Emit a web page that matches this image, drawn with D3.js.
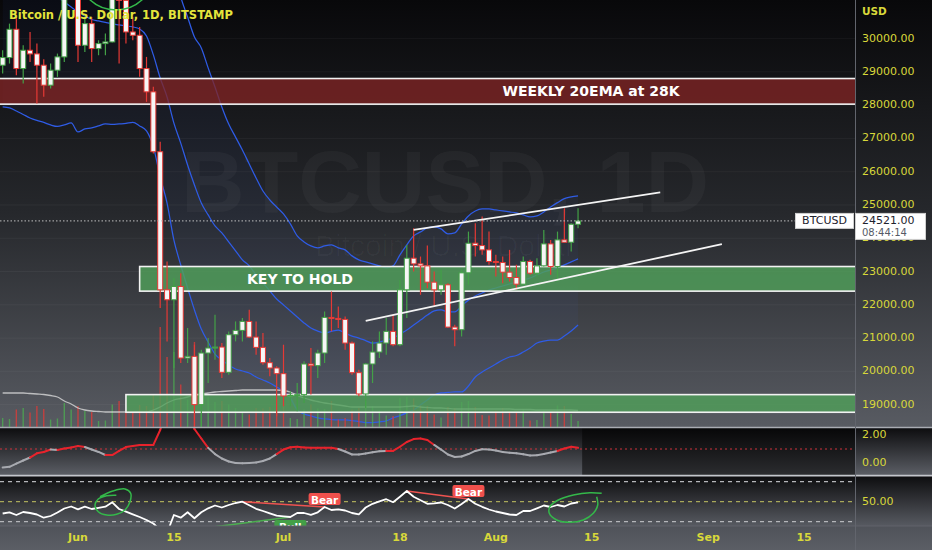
<!DOCTYPE html>
<html><head><meta charset="utf-8">
<script src="https://cdn.jsdelivr.net/npm/d3@7"></script>
<style>body{margin:0;background:#0b0b0c;}svg{display:block}</style>
</head><body>
<svg id="c" width="932" height="550"></svg>
<script>
// ---------------- DATA ----------------
const dates = ["2022-05-21","2022-05-22","2022-05-23","2022-05-24","2022-05-25","2022-05-26","2022-05-27","2022-05-28","2022-05-29","2022-05-30","2022-05-31",
"2022-06-01","2022-06-02","2022-06-03","2022-06-04","2022-06-05","2022-06-06","2022-06-07","2022-06-08","2022-06-09","2022-06-10","2022-06-11","2022-06-12","2022-06-13","2022-06-14","2022-06-15","2022-06-16","2022-06-17","2022-06-18","2022-06-19","2022-06-20","2022-06-21","2022-06-22","2022-06-23","2022-06-24","2022-06-25","2022-06-26","2022-06-27","2022-06-28","2022-06-29","2022-06-30",
"2022-07-01","2022-07-02","2022-07-03","2022-07-04","2022-07-05","2022-07-06","2022-07-07","2022-07-08","2022-07-09","2022-07-10","2022-07-11","2022-07-12","2022-07-13","2022-07-14","2022-07-15","2022-07-16","2022-07-17","2022-07-18","2022-07-19","2022-07-20","2022-07-21","2022-07-22","2022-07-23","2022-07-24","2022-07-25","2022-07-26","2022-07-27","2022-07-28","2022-07-29","2022-07-30","2022-07-31",
"2022-08-01","2022-08-02","2022-08-03","2022-08-04","2022-08-05","2022-08-06","2022-08-07","2022-08-08","2022-08-09","2022-08-10","2022-08-11","2022-08-12","2022-08-13"];
const open = [29200,29430,30280,29100,29650,29540,29200,28600,29050,29450,31700,
31800,29800,30450,29700,29850,29900,31350,31150,30200,30100,29100,28400,26600,22450,22150,22550,20400,20450,19000,20550,20700,20730,19970,21100,21230,21500,21030,20720,20260,20100,
19930,19260,19280,19300,20220,20170,20550,21620,21590,21560,20850,19960,19320,20220,20580,20850,21200,20800,22450,23400,23230,23170,22680,22450,22600,21330,21250,22960,23850,23780,23650,
23300,23270,22980,22820,22620,23300,22950,23170,23830,23150,23950,23880,24420];
const high = [29650,30450,30650,29800,30200,29850,29380,29250,29550,32200,32400,
31950,30650,30650,29950,30150,31750,31550,31300,30650,30350,29450,28550,26900,23300,22800,22950,21300,20800,20650,21000,21700,20850,21200,21500,21600,21850,21500,21150,20400,20150,
20800,19400,19650,20300,20700,20650,21800,22400,21950,21650,20900,20050,20250,20900,21200,21600,21700,22750,23800,24300,23450,23780,23000,23050,22650,21400,23050,24200,24450,24650,24200,
23500,23450,23650,23200,23450,23350,23400,24250,23950,24200,24900,24450,24900];
const low = [28950,29250,28900,28650,29300,28050,28250,28500,28850,29300,31200,
29300,29600,29300,29500,29500,29880,29250,29850,29950,28850,28100,26550,21900,20900,20100,20250,20250,17600,17950,19650,20350,19800,19900,20900,20900,21000,20500,20200,19850,18650,
18950,18950,18800,19050,19300,19800,20250,21200,21300,20650,19900,19250,18900,19650,20400,20500,20750,20750,21600,23000,22300,22500,21950,22300,21300,20750,21050,22600,23450,23500,23200,
22850,22650,22700,22450,22600,22900,22850,23150,22900,22700,23880,23600,24300];
const close = [29430,30280,29100,29650,29540,29200,28600,29050,29450,31700,31800,
29800,30450,29700,29850,29900,31350,31150,30200,30100,29100,28400,26600,22450,22150,22550,20400,20450,19000,20550,20700,20730,19970,21100,21230,21500,21030,20720,20260,20100,19930,
19260,19280,19300,20220,20170,20550,21620,21590,21560,20850,19960,19320,20220,20580,20850,21200,20800,22450,23400,23230,23170,22680,22450,22600,21330,21250,22960,23850,23780,23650,23300,
23270,22980,22820,22620,23300,22950,23170,23830,23150,23950,23880,24420,24521];
const volume = [1800,1600,3500,3800,2900,4200,3600,1500,1700,4800,3500,
4200,3200,3000,1200,1300,4500,5200,3300,2800,4400,4200,6500,20000,14000,15000,8500,5500,17000,9500,6000,5000,5200,4500,3800,2800,2500,3800,3700,4000,5600,
5200,1800,1600,3500,4500,3700,3600,5200,1500,1800,3500,3800,5200,4200,3300,2300,2200,5800,6000,5700,4300,4200,2500,1900,4000,3800,5000,5200,4000,2400,2300,
3300,3800,3200,3000,3600,1300,1400,3400,3000,4300,4200,2600,1200];
const volumeMA = [6800,6800,6800,6800,6700,6600,6500,6300,6000,5200,4600,
3800,3400,3200,3100,3000,3000,3000,3000,3000,3000,3000,3400,4000,4800,5400,5700,6000,6400,6600,6800,7000,7100,7200,7300,7400,7400,7400,7400,7400,7400,
7300,7000,6300,5800,5400,5100,4800,4600,4400,4200,4000,4000,4000,4000,4000,4000,4000,4000,4100,4200,4000,3900,3800,3800,3700,3600,3600,3600,3600,3600,3600,
3600,3600,3600,3500,3500,3500,3400,3400,3400,3400,3400,3400,3300];
const bbUpper = [36500,36200,35800,35400,35000,34700,34400,34200,34000,33900,33800,
33700,33600,33500,33400,33300,33250,33250,33300,33300,33250,33100,32800,32400,32300,32100,31250,30650,30050,29720,29120,28545,27945,27430,27040,26650,26230,25810,25420,25150,24940,
24730,24430,24070,23890,23770,23710,23770,23800,23710,23650,23470,23350,23290,23230,23170,23110,23170,23500,23800,24070,24190,24310,24340,24280,24130,24160,24430,24670,24820,24880,24880,
24850,24820,24790,24760,24700,24640,24670,24790,24940,25070,25190,25240,25270];
const bbBasis = [33000,32750,32500,32250,32000,31800,31600,31400,31250,31100,30950,
30800,30680,30575,30530,30485,30440,30410,30380,30350,30290,30080,29510,28815,28245,27460,26860,26200,25600,25060,24700,24370,24160,23890,23620,23350,23170,22900,22660,22420,22175,
21995,21815,21635,21455,21300,21210,21150,21200,21240,21150,21060,21000,20925,20850,20880,20940,21000,21120,21240,21390,21540,21690,21815,21845,21785,21785,21965,22140,22265,22355,22445,
22505,22565,22625,22685,22745,22805,22895,22985,23045,23105,23200,23290,23380];
const bbLower = [27945,27915,27825,27720,27615,27540,27480,27405,27360,27405,27465,
27195,27285,27315,27375,27435,27420,27435,27450,27480,27375,27225,26745,25840,25055,23945,23195,22505,21845,21270,20880,20520,20340,20190,20070,20010,19950,19830,19740,19650,19530,
19410,19200,18840,18720,18660,18600,18570,18550,18540,18540,18520,18490,18460,18460,18480,18510,18600,18670,18750,18840,18990,19140,19290,19350,19365,19380,19380,19560,19830,19980,20100,
20220,20340,20430,20475,20580,20700,20850,20910,20940,20940,21060,21210,21390];
const osc = [-0.32,-0.27,-0.04,0.18,0.39,0.69,0.79,0.96,0.93,1.04,1.11,
1.21,1.14,0.96,0.79,0.57,0.57,0.86,1.14,1.21,1.29,1.29,1.29,2.36,4.0,5.0,5.0,4.0,2.43,1.75,1.08,0.64,0.32,0.11,0.0,-0.02,0.0,0.04,0.14,0.32,0.64,
0.96,1.12,1.16,1.11,1.09,1.09,1.09,1.09,1.0,0.82,0.61,0.61,0.68,0.76,0.84,0.86,0.86,1.16,1.5,1.71,1.75,1.64,1.29,0.96,0.61,0.43,0.46,0.64,0.86,0.98,0.96,
0.89,0.79,0.74,0.69,0.62,0.54,0.55,0.64,0.75,0.86,1.04,1.16,1.09];
const oscHot = [0,0,0,0,0,1,1,1,0,1,1,
1,1,0,0,0,1,1,1,1,1,1,1,1,1,1,1,1,1,1,1,0,0,0,0,0,0,0,0,0,0,
1,1,1,1,1,1,1,1,1,0,0,0,0,0,0,0,1,1,1,1,1,1,1,0,0,0,0,0,0,0,0,
0,0,0,0,0,0,0,0,0,0,1,1,1];
const rsi = [38.2,39.4,36.7,39.7,38.7,37.2,34.0,35.7,39.2,43.2,45.2,
42.4,45.0,42.7,43.9,45.0,49.4,42.7,40.0,37.4,34.7,31.7,28.2,21.7,18.7,36.7,34.0,39.4,33.4,39.4,43.4,46.2,44.2,46.7,48.7,50.0,46.4,42.9,40.7,38.3,36.0,
35.4,34.7,38.7,38.7,36.9,39.4,44.7,41.7,42.4,41.2,38.7,37.4,44.2,47.9,50.4,52.5,49.5,55.0,60.7,54.9,51.5,47.9,48.4,49.2,46.7,43.2,47.7,52.7,48.0,44.9,42.2,
40.2,38.7,37.2,36.7,40.7,40.7,43.4,46.2,44.7,46.7,45.2,48.2,49.4];

const priceTicks = [30000,29000,28000,27000,26000,25000,24000,23000,22000,21000,20000,19000];
const timeTicks = [["2022-06-01","Jun"],["2022-06-15","15"],["2022-07-01","Jul"],["2022-07-18","18"],["2022-08-01","Aug"],["2022-08-15","15"],["2022-09-01","Sep"],["2022-09-15","15"]];
const lastPrice = 24521, lastTimer = "08:44:14", symbol = "BTCUSD";
const zones = [
  {from:"2022-05-01", to:"2022-10-15", top:28800, bottom:28030, fill:"rgba(128,36,36,0.78)"},
  {from:"2022-06-10", to:"2022-10-15", top:23150, bottom:22410, fill:"rgba(80,160,90,0.82)"},
  {from:"2022-06-08", to:"2022-10-15", top:19300, bottom:18770, fill:"rgba(80,160,90,0.8)"}
];
const zoneTexts = [{text:"WEEKLY 20EMA at 28K", bar:74.9, price:28415},{text:"KEY TO HOLD", bar:32.4, price:22780}];
const trendLines = [
  {from:"2022-07-20", p1:24248, to:"2022-08-25", p2:25378},
  {from:"2022-07-13", p1:21513, to:"2022-09-03", p2:23821}
];
const divergences = [
  {kind:"Bear", from:"2022-06-25", to:"2022-07-07"},
  {kind:"Bear", from:"2022-07-19", to:"2022-07-28"},
  {kind:"Bull", from:"2022-06-14", to:"2022-07-02"}
];
// hand-drawn loops in pane 2: [bar index from Jun 1, rsi value]
const loopA = [[3.21,55.0],[5.11,60.7],[6.86,62.7],[7.69,58.4],[7.59,50.0],[6.86,41.7],[5.65,37.4],[4.19,36.7],[2.96,40.0],[2.48,46.7],[2.96,52.7],[4.19,56.0],[5.6,56.5]];
const loopB = [[76.45,58.4],[74.74,59.0],[72.31,56.7],[70.12,51.7],[68.9,45.0],[68.8,38.4],[69.88,31.7],[71.82,29.4],[73.77,31.7],[75.23,38.4],[75.87,46.7],[75.72,55.0]];
const topEllipse = {bar:5.55, price:31913, rxBars:5.4, ryPrice:1052};

// ---------------- LAYOUT ----------------
const W = 932, PR = 855;
const P1 = {top:428, bot:475}, P2 = {top:476.5, bot:526};
const parse = d3.utcParse("%Y-%m-%d");
const x = d3.scaleUtc().domain([parse("2022-06-01"), parse("2022-09-15")]).range([78, 804.1]);
const xi = d3.scaleLinear().domain([0,106]).range([78, 804.1]);
const yP = d3.scaleLinear().domain([19000,30000]).range([404.6,38.6]);
const yV = d3.scaleLinear().domain([0,20000]).range([427,327]);
const yO = d3.scaleLinear().domain([0,2]).range([463,435]);
const yR = d3.scaleLinear().domain([30,70]).range([521.7,481.7]);

const bars = dates.map((d,i)=>({t:parse(d), o:open[i], h:high[i], l:low[i], c:close[i], v:volume[i], vma:volumeMA[i], bu:bbUpper[i], bm:bbBasis[i], bl:bbLower[i], osc:osc[i], hot:oscHot[i], rsi:rsi[i]}));
const byDate = new Map(dates.map((d,i)=>[d,bars[i]]));

const svg = d3.select("#c");
const defs = svg.append("defs");
function vgrad(id, y1, y2, stops){
  const g = defs.append("linearGradient").attr("id",id).attr("gradientUnits","userSpaceOnUse")
    .attr("x1",0).attr("x2",0).attr("y1",y1).attr("y2",y2);
  stops.forEach(s=>g.append("stop").attr("offset",s[0]).attr("stop-color",s[1]));
}
vgrad("gP",0,427,[[0,"#08080a"],[0.5,"#26282c"],[1,"#585b62"]]);
vgrad("g1",428,475,[[0,"#0d0d0f"],[1,"#5b5e65"]]);
vgrad("g1d",428,475,[[0,"#070708"],[1,"#2b2c2f"]]);
vgrad("g2",476,526,[[0,"#0d0d0f"],[1,"#575a61"]]);
vgrad("gT",526,550,[[0,"#4f5259"],[1,"#5b5e65"]]);
function clip(id,y,h){ defs.append("clipPath").attr("id",id).append("rect").attr("x",0).attr("y",y).attr("width",PR).attr("height",h); }
clip("cP",0,427); clip("c1",P1.top,P1.bot-P1.top); clip("c2",P2.top,P2.bot-P2.top);

// backgrounds
svg.append("rect").attr("x",0).attr("y",0).attr("width",W).attr("height",427).attr("fill","url(#gP)");
svg.append("rect").attr("x",0).attr("y",P1.top).attr("width",W).attr("height",P1.bot-P1.top).attr("fill","url(#g1)");
svg.append("rect").attr("x",xi(73.6)).attr("y",P1.top).attr("width",PR-xi(73.6)).attr("height",P1.bot-P1.top).attr("fill","url(#g1d)");
svg.append("rect").attr("x",0).attr("y",P2.top).attr("width",W).attr("height",P2.bot-P2.top).attr("fill","url(#g2)");
svg.append("rect").attr("x",0).attr("y",526).attr("width",W).attr("height",24).attr("fill","url(#gT)");

// ---------------- PRICE PANE ----------------
const gp = svg.append("g").attr("clip-path","url(#cP)");
gp.selectAll("line.grid").data(priceTicks).join("line")
  .attr("x1",0).attr("x2",PR).attr("y1",d=>yP(d)).attr("y2",d=>yP(d))
  .attr("stroke","rgba(255,255,255,0.045)");
// watermark
gp.append("text").attr("x",445).attr("y",212).attr("text-anchor","middle")
  .attr("font-family","Liberation Sans, Arial, sans-serif").attr("font-weight","bold").attr("font-size",88)
  .attr("fill","rgba(255,255,255,0.035)").text("BTCUSD, 1D");
gp.append("text").attr("x",445).attr("y",256).attr("text-anchor","middle")
  .attr("font-family","Liberation Sans, Arial, sans-serif").attr("font-size",30)
  .attr("fill","rgba(255,255,255,0.028)").text("Bitcoin / U.S. Dollar");

// Bollinger fill & lines
gp.append("path").datum(bars).attr("fill","rgba(60,110,255,0.045)")
  .attr("d", d3.area().x(d=>x(d.t)).y0(d=>yP(d.bl)).y1(d=>yP(d.bu)).curve(d3.curveMonotoneX));
["bu","bm","bl"].forEach(k=>{
  gp.append("path").datum(bars).attr("fill","none").attr("stroke","#2f5ce6").attr("stroke-width",1.25)
    .attr("d", d3.line().x(d=>x(d.t)).y(d=>yP(d[k])).curve(d3.curveMonotoneX));
});
// volume
gp.selectAll("line.vol").data(bars).join("line")
  .attr("x1",d=>x(d.t)).attr("x2",d=>x(d.t)).attr("y1",yV(0)).attr("y2",d=>yV(d.v))
  .attr("stroke",d=>d.c>=d.o?"rgba(76,175,80,0.75)":"rgba(229,57,53,0.75)").attr("stroke-width",1.4);
gp.append("path").datum(bars).attr("fill","none").attr("stroke","rgba(225,225,225,0.75)").attr("stroke-width",1.3)
  .attr("d", d3.line().x(d=>x(d.t)).y(d=>yV(d.vma)).curve(d3.curveMonotoneX));
// zones
zones.forEach(z=>{
  const x1 = x(parse(z.from)), x2 = x(parse(z.to));
  gp.append("rect").attr("x",x1).attr("y",yP(z.top)).attr("width",x2-x1).attr("height",yP(z.bottom)-yP(z.top))
    .attr("fill",z.fill).attr("stroke","#f2f2f2").attr("stroke-width",1.6);
});
// candles
const cg = gp.append("g");
cg.selectAll("line.wick").data(bars).join("line")
  .attr("x1",d=>x(d.t)).attr("x2",d=>x(d.t)).attr("y1",d=>yP(d.h)).attr("y2",d=>yP(d.l))
  .attr("stroke",d=>d.c>=d.o?"#43a047":"#e53935").attr("stroke-width",1.2);
cg.selectAll("rect.body").data(bars).join("rect")
  .attr("x",d=>x(d.t)-2.5).attr("width",5)
  .attr("y",d=>yP(Math.max(d.o,d.c))).attr("height",d=>Math.max(1,Math.abs(yP(d.o)-yP(d.c))))
  .attr("fill","#f6f6f6").attr("stroke",d=>d.c>=d.o?"#43a047":"#e53935").attr("stroke-width",1);
// trend lines
trendLines.forEach(t=>{
  gp.append("line").attr("x1",x(parse(t.from))).attr("y1",yP(t.p1)).attr("x2",x(parse(t.to))).attr("y2",yP(t.p2))
    .attr("stroke","#f4f4f4").attr("stroke-width",1.8);
});
// last price dotted
gp.append("line").attr("x1",0).attr("x2",795).attr("y1",yP(lastPrice)).attr("y2",yP(lastPrice))
  .attr("stroke","#bfbfbf").attr("stroke-width",1).attr("stroke-dasharray","1.5,2");
// zone texts
zoneTexts.forEach(t=>{
  gp.append("text").attr("x",xi(t.bar)).attr("y",yP(t.price)).attr("text-anchor","middle").attr("dominant-baseline","central")
    .attr("font-family","DejaVu Sans, sans-serif").attr("font-weight","bold").attr("font-size",14)
    .attr("fill","#ffffff").text(t.text);
});
// green hand-drawn ellipse at top
gp.append("ellipse").attr("cx",xi(topEllipse.bar)).attr("cy",yP(topEllipse.price))
  .attr("rx",xi(topEllipse.bar+topEllipse.rxBars)-xi(topEllipse.bar))
  .attr("ry",yP(topEllipse.price-topEllipse.ryPrice)-yP(topEllipse.price))
  .attr("fill","none").attr("stroke","#34b84a").attr("stroke-width",1.5);
// title
svg.append("text").attr("x",9).attr("y",15).attr("dominant-baseline","middle")
  .attr("font-family","DejaVu Sans, sans-serif").attr("font-weight","bold").attr("font-size",11.5)
  .attr("fill","#e4e43c").text("Bitcoin / U.S. Dollar, 1D, BITSTAMP");

// ---------------- PANE 1 ----------------
const g1 = svg.append("g").attr("clip-path","url(#c1)");
g1.append("line").attr("x1",0).attr("x2",PR).attr("y1",yO(1)).attr("y2",yO(1))
  .attr("stroke","#d0303a").attr("stroke-width",1.2).attr("stroke-dasharray","2,3");
for(let i=1;i<bars.length;i++){
  g1.append("line").attr("x1",x(bars[i-1].t)).attr("y1",yO(bars[i-1].osc)).attr("x2",x(bars[i].t)).attr("y2",yO(bars[i].osc))
    .attr("stroke",bars[i].hot?"#e8232c":"#a8aab0").attr("stroke-width",2).attr("stroke-linecap","round");
}

// ---------------- PANE 2 ----------------
const g2 = svg.append("g").attr("clip-path","url(#c2)");
[[70,"#b5b6ba"],[50,"#a8a85a"],[30,"#b5b6ba"]].forEach(l=>{
  g2.append("line").attr("x1",0).attr("x2",PR).attr("y1",yR(l[0])).attr("y2",yR(l[0]))
    .attr("stroke",l[1]).attr("stroke-width",1.3).attr("stroke-dasharray","4,4");
});
divergences.forEach(dv=>{
  const a = byDate.get(dv.from), b = byDate.get(dv.to);
  const col = dv.kind==="Bear" ? "#ef5350" : "#4caf50";
  g2.append("line").attr("x1",x(a.t)).attr("y1",yR(a.rsi)).attr("x2",x(b.t)).attr("y2",yR(b.rsi))
    .attr("stroke",col).attr("stroke-width",1.6);
});
g2.append("path").datum(bars).attr("fill","none").attr("stroke","#ffffff").attr("stroke-width",1.8)
  .attr("stroke-linejoin","round").attr("d", d3.line().x(d=>x(d.t)).y(d=>yR(d.rsi)));
divergences.forEach(dv=>{
  const b = byDate.get(dv.to);
  const col = dv.kind==="Bear" ? "#f0504c" : "#43a047";
  const cx = x(b.t), w = 32, h = 12;
  const y0 = dv.kind==="Bear" ? yR(b.rsi)-2-h : yR(b.rsi)+3;
  g2.append("rect").attr("x",cx-w/2).attr("y",y0).attr("width",w).attr("height",h).attr("rx",2).attr("fill",col);
  g2.append("text").attr("x",cx).attr("y",y0+h/2+0.5).attr("text-anchor","middle").attr("dominant-baseline","central")
    .attr("font-family","DejaVu Sans, sans-serif").attr("font-weight","bold").attr("font-size",10.5)
    .attr("fill","#ffffff").text(dv.kind);
});
[loopA, loopB].forEach(lp=>{
  g2.append("path").datum(lp).attr("fill","none").attr("stroke","#34b84a").attr("stroke-width",1.5)
    .attr("d", d3.line().x(d=>xi(d[0])).y(d=>yR(d[1])).curve(d3.curveCatmullRom));
});

// ---------------- SEPARATORS & AXES ----------------
svg.append("line").attr("x1",0).attr("x2",W).attr("y1",427.5).attr("y2",427.5).attr("stroke","#a9acb3").attr("stroke-width",1.5);
svg.append("line").attr("x1",0).attr("x2",W).attr("y1",475.7).attr("y2",475.7).attr("stroke","#c4c6cc").attr("stroke-width",1.8);
svg.append("line").attr("x1",0).attr("x2",W).attr("y1",526).attr("y2",526).attr("stroke","#60636a").attr("stroke-width",1);
svg.append("line").attr("x1",PR+0.5).attr("x2",PR+0.5).attr("y1",0).attr("y2",550).attr("stroke","#62656d").attr("stroke-width",1);

const axisFont = "DejaVu Sans, sans-serif", axisCol = "#d8d83a";
svg.append("text").attr("x",862).attr("y",12).attr("dominant-baseline","middle").attr("font-family",axisFont)
  .attr("font-size",10.5).attr("font-weight","bold").attr("fill",axisCol).text("USD");
svg.selectAll("text.pt").data(priceTicks).join("text")
  .attr("x",862).attr("y",d=>yP(d)).attr("dominant-baseline","middle").attr("font-family",axisFont)
  .attr("font-size",11).attr("fill",axisCol).text(d=>d3.format(".2f")(d));
[[yO(2),"2.00"],[yO(0),"0.00"],[yR(50),"50.00"]].forEach(l=>{
  svg.append("text").attr("x",862).attr("y",l[0]).attr("dominant-baseline","middle").attr("font-family",axisFont)
    .attr("font-size",11).attr("fill",axisCol).text(l[1]);
});
// last price boxes
const ly = yP(lastPrice);
svg.append("rect").attr("x",795.5).attr("y",ly-7.5).attr("width",58).attr("height",15).attr("fill","#ffffff").attr("stroke","#d0d0d0");
svg.append("text").attr("x",824.5).attr("y",ly+0.5).attr("text-anchor","middle").attr("dominant-baseline","middle")
  .attr("font-family",axisFont).attr("font-size",11).attr("fill","#1e222d").text(symbol);
svg.append("rect").attr("x",855.5).attr("y",ly-7.5).attr("width",70).attr("height",26).attr("fill","#ffffff").attr("stroke","#d0d0d0");
svg.append("text").attr("x",862).attr("y",ly).attr("dominant-baseline","middle")
  .attr("font-family",axisFont).attr("font-size",11).attr("fill","#1e222d").text(d3.format(".2f")(lastPrice));
svg.append("text").attr("x",862).attr("y",ly+12).attr("dominant-baseline","middle")
  .attr("font-family",axisFont).attr("font-size",10).attr("fill","#555a66").text(lastTimer);
// time axis
svg.selectAll("text.tt").data(timeTicks).join("text")
  .attr("x",d=>x(parse(d[0]))).attr("y",538).attr("text-anchor","middle").attr("dominant-baseline","middle")
  .attr("font-family",axisFont).attr("font-size",11).attr("font-weight","bold").attr("fill",axisCol).text(d=>d[1]);
</script>
</body></html>
